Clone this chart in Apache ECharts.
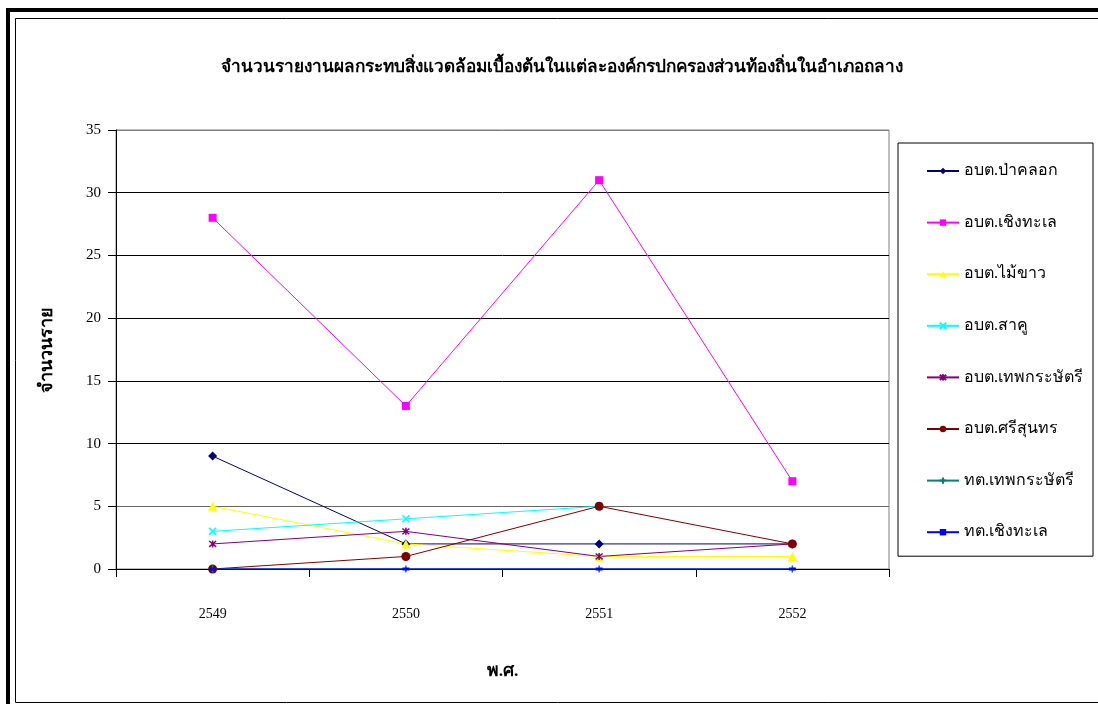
<!DOCTYPE html>
<html>
<head>
<meta charset="utf-8">
<script src="https://cdn.jsdelivr.net/npm/echarts@6/dist/echarts.min.js"></script>
<style>
  html, body { margin: 0; padding: 0; background: #fff; }
  #chart { width: 1098px; height: 704px; }
</style>
</head>
<body>
<div id="chart"></div>
<script>
// Years (Buddhist era) on the category axis
const years = ['2549', '2550', '2551', '2552'];

// Reports per local administrative organisation
const paKhlok      = [9, 2, 2, 2];
const choengThale  = [28, 13, 31, 7];
const maiKhao      = [5, 2, 1, 1];
const sakhu        = [3, 4, 5, null];
const thepSubd     = [2, 3, 1, 2];
const siSunthon    = [0, 1, 5, 2];
const thepMuni     = [0, 0, 0, 0];
const choengMuni   = [0, 0, 0, 0];

const yTicks = [0, 5, 10, 15, 20, 25, 30, 35];

const FONT = "'Liberation Serif', 'DejaVu Serif', 'Noto Sans', serif";

const X_PATH = 'path://M0,0L10,10M10,0L0,10';
const STAR_PATH = 'path://M0,0L10,10M10,0L0,10M5,-1L5,11';
const PLUS_PATH = 'path://M5,0L5,10M0,5L10,5';

function mk(name, data, color, symbol, size, stroked) {
  return {
    name: name,
    type: 'line',
    data: data,
    symbol: symbol,
    symbolSize: size,
    showSymbol: true,
    connectNulls: false,
    lineStyle: { color: color, width: 1 },
    itemStyle: stroked
      ? { color: color, borderColor: color, borderWidth: 1.5 }
      : { color: color, borderWidth: 0 },
    emphasis: { disabled: true },
    animation: false
  };
}

const chart = echarts.init(document.getElementById('chart'), null, { renderer: 'canvas' });

chart.setOption({
  backgroundColor: '#ffffff',
  animation: false,
  textStyle: { fontFamily: FONT, color: '#000' },
  title: {
    text: 'จำนวนรายงานผลกระทบสิ่งแวดล้อมเบื้องต้นในแต่ละองค์กรปกครองส่วนท้องถิ่นในอำเภอถลาง',
    left: 557,
    textAlign: 'center',
    top: 54,
    textStyle: { fontFamily: FONT, fontSize: 17.2, fontWeight: 'bold', color: '#000' }
  },
  graphic: [
    { type: 'rect', shape: { x: 8, y: 10, width: 1200, height: 1200 },
      style: { fill: 'none', stroke: '#000', lineWidth: 4 }, silent: true },
    { type: 'rect', shape: { x: 15.5, y: 18.5, width: 1200, height: 684 },
      style: { fill: 'none', stroke: '#000', lineWidth: 1 }, silent: true }
  ],
  legend: {
    orient: 'vertical',
    left: 898,
    top: 143,
    width: 194,
    height: 410,
    padding: [20, 10, 16, 28],
    itemGap: 35.6,
    itemWidth: 32,
    itemHeight: 8,
    borderColor: '#000',
    borderWidth: 1,
    backgroundColor: '#fff',
    textStyle: { fontFamily: FONT, fontSize: 16, color: '#000' },
    data: [
      'อบต.ป่าคลอก', 'อบต.เชิงทะเล', 'อบต.ไม้ขาว', 'อบต.สาคู',
      'อบต.เทพกระษัตรี', 'อบต.ศรีสุนทร', 'ทต.เทพกระษัตรี', 'ทต.เชิงทะเล'
    ]
  },
  grid: {
    left: 116, right: 209, top: 130, bottom: 135,
    show: true, borderColor: '#808080', borderWidth: 1, backgroundColor: 'transparent'
  },
  xAxis: {
    type: 'category',
    data: years,
    boundaryGap: true,
    name: 'พ.ศ.',
    nameLocation: 'middle',
    nameGap: 93,
    nameTextStyle: { fontFamily: FONT, fontSize: 17.5, fontWeight: 'bold', color: '#000' },
    axisLine: { lineStyle: { color: '#000', width: 1 } },
    axisTick: { show: true, length: 8, lineStyle: { color: '#000' } },
    axisLabel: { fontFamily: FONT, fontSize: 14, color: '#000', margin: 38 },
    splitLine: { show: false }
  },
  yAxis: {
    type: 'value',
    min: yTicks[0],
    max: yTicks[yTicks.length - 1],
    interval: 5,
    name: 'จำนวนราย',
    nameLocation: 'middle',
    nameGap: 60,
    nameRotate: 90,
    nameTextStyle: { fontFamily: FONT, fontSize: 18, fontWeight: 'bold', color: '#000' },
    axisLine: { show: true, lineStyle: { color: '#000', width: 1 } },
    axisTick: { show: true, length: 8, lineStyle: { color: '#000' } },
    axisLabel: { fontFamily: FONT, fontSize: 15, color: '#000', margin: 15 },
    splitLine: {
      show: true,
      lineStyle: { color: ['#000', '#666', '#000', '#000', '#000', '#000', '#000', '#808080'], width: 1 }
    }
  },
  series: [
    mk('อบต.ป่าคลอก', paKhlok, '#000080', 'diamond', 9, false),
    mk('อบต.เชิงทะเล', choengThale, '#FF00FF', 'rect', 8, false),
    mk('อบต.ไม้ขาว', maiKhao, '#FFFF00', 'triangle', 9, false),
    mk('อบต.สาคู', sakhu, '#00FFFF', X_PATH, 7, true),
    mk('อบต.เทพกระษัตรี', thepSubd, '#800080', STAR_PATH, 7, true),
    mk('อบต.ศรีสุนทร', siSunthon, '#800000', 'circle', 9, false),
    mk('ทต.เทพกระษัตรี', thepMuni, '#008080', PLUS_PATH, 7, true),
    mk('ทต.เชิงทะเล', choengMuni, '#0000FF', 'rect', [7, 3], false)
  ]
});
</script>
</body>
</html>
